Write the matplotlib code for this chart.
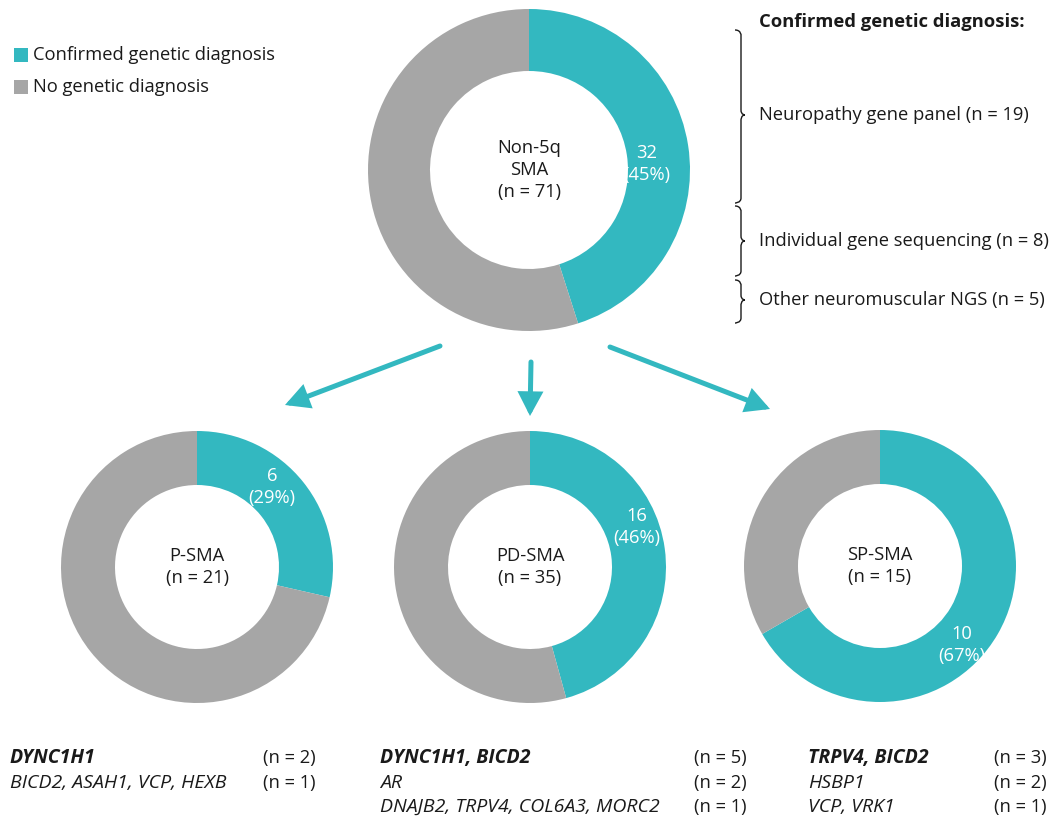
import matplotlib
matplotlib.use("Agg")
import matplotlib.pyplot as plt
from matplotlib.path import Path
from matplotlib.patches import PathPatch, FancyArrowPatch, Rectangle

plt.rcParams['font.family'] = ['Open Sans', 'DejaVu Sans']

TEAL = '#33B8C0'
GRAY = '#A6A6A6'
TXT = '#1a1a1a'

# ---- data ----
legend_labels = ['Confirmed genetic diagnosis', 'No genetic diagnosis']
groups = ['Non-5q\nSMA', 'P-SMA', 'PD-SMA', 'SP-SMA']
totals = [71, 21, 35, 15]
confirmed = [32, 6, 16, 10]

method_title = 'Confirmed genetic diagnosis:'
methods = ['Neuropathy gene panel', 'Individual gene sequencing', 'Other neuromuscular NGS']
method_counts = [19, 8, 5]

genes_p = ['DYNC1H1', 'BICD2, ASAH1, VCP, HEXB']
genes_p_n = [2, 1]
genes_pd = ['DYNC1H1, BICD2', 'AR', 'DNAJB2, TRPV4, COL6A3, MORC2']
genes_pd_n = [5, 2, 1]
genes_sp = ['TRPV4, BICD2', 'HSBP1', 'VCP, VRK1']
genes_sp_n = [3, 2, 1]

W, H = 1056, 816
fig = plt.figure(figsize=(W / 100, H / 100), dpi=100)
ax = fig.add_axes([0, 0, 1, 1])


def Y(yp):
    return H - yp


FS = 13.2
FS_G = 14.0
LS = 1.32

# donut layout: (cx, cy, r_out, width, label pos)
layout = [
    (529, 170, 161, 62, (647, 164)),
    (197, 567, 136, 54, (272, 487)),
    (530, 567, 136, 54, (637, 527)),
    (880, 566, 136, 54, (962, 645)),
]

for g, tot, c, (cx, cy, r, w, lp) in zip(groups, totals, confirmed, layout):
    ax.pie([c, tot - c], colors=[TEAL, GRAY], startangle=90, counterclock=False,
           center=(cx, Y(cy)), radius=r, wedgeprops=dict(width=w, linewidth=0),
           frame=True)
    ax.text(cx, Y(cy), f'{g}\n(n = {tot})', ha='center', va='center',
            fontsize=FS, color=TXT, linespacing=LS)
    ax.text(lp[0], Y(lp[1]), f'{c}\n({round(100 * c / tot)}%)', ha='center',
            va='center', fontsize=FS, color='white', linespacing=LS)

ax.set_xlim(0, W)
ax.set_ylim(0, H)
ax.set_aspect('equal')
ax.axis('off')

# legend
for i, (lab, col) in enumerate(zip(legend_labels, [TEAL, GRAY])):
    yy = 55 + 32 * i
    ax.add_patch(Rectangle((14, Y(yy) - 7), 14, 14, color=col, lw=0))
    ax.text(33, Y(yy), lab, ha='left', va='center', fontsize=FS, color=TXT)

# right side
ax.text(759, Y(22), method_title, ha='left', va='center', fontsize=FS,
        fontweight='bold', color=TXT)
method_y = [115, 241, 300]
brace_spans = [(30, 203), (206, 276), (280, 323)]
for m, n, yy in zip(methods, method_counts, method_y):
    ax.text(759, Y(yy), f'{m} (n = {n})', ha='left', va='center',
            fontsize=FS, color=TXT)


def brace(x, y0, y1, ym):
    xl = x - 6
    xt = x + 4
    d = 5
    verts = [
        (xl, Y(y0)),
        (x, Y(y0)), (x, Y(y0 + d)), (x, Y(y0 + d)),
        (x, Y(ym - d)),
        (x, Y(ym)), (xt, Y(ym)), (xt, Y(ym)),
        (x, Y(ym)), (x, Y(ym + d)), (x, Y(ym + d)),
        (x, Y(y1 - d)),
        (x, Y(y1)), (xl, Y(y1)), (xl, Y(y1)),
    ]
    codes = [Path.MOVETO,
             Path.CURVE4, Path.CURVE4, Path.CURVE4,
             Path.LINETO,
             Path.CURVE4, Path.CURVE4, Path.CURVE4,
             Path.CURVE4, Path.CURVE4, Path.CURVE4,
             Path.LINETO,
             Path.CURVE4, Path.CURVE4, Path.CURVE4]
    ax.add_patch(PathPatch(Path(verts, codes), fill=False, ec=TXT, lw=1.0))


for (y0, y1), ym in zip(brace_spans, method_y):
    brace(741, y0, y1, ym)

# arrows
arrows = [((440, 346), (285, 405)), ((531, 362), (530, 416)), ((610, 347), (770, 409))]
for (x0, y0), (x1, y1) in arrows:
    ax.add_patch(FancyArrowPatch((x0, Y(y0)), (x1, Y(y1)),
                                 arrowstyle='-|>,head_length=5.5,head_width=2.9',
                                 mutation_scale=2.2, color=TEAL, lw=3.6,
                                 shrinkA=0, shrinkB=0, joinstyle='miter'))

# bottom gene lists
cols = [(10, 263, genes_p, genes_p_n), (380, 694, genes_pd, genes_pd_n),
        (808, 994, genes_sp, genes_sp_n)]
row_y = [758, 783, 807]
for xt, xn, genes, ns in cols:
    for i, (gname, n) in enumerate(zip(genes, ns)):
        ax.text(xt, Y(row_y[i]), gname, ha='left', va='center', fontsize=FS_G,
                style='italic', fontweight='bold' if i == 0 else 'normal',
                color=TXT)
        ax.text(xn, Y(row_y[i]), f'(n = {n})', ha='left', va='center',
                fontsize=FS, color=TXT)

fig.savefig('out.png', dpi=100, facecolor='white')
